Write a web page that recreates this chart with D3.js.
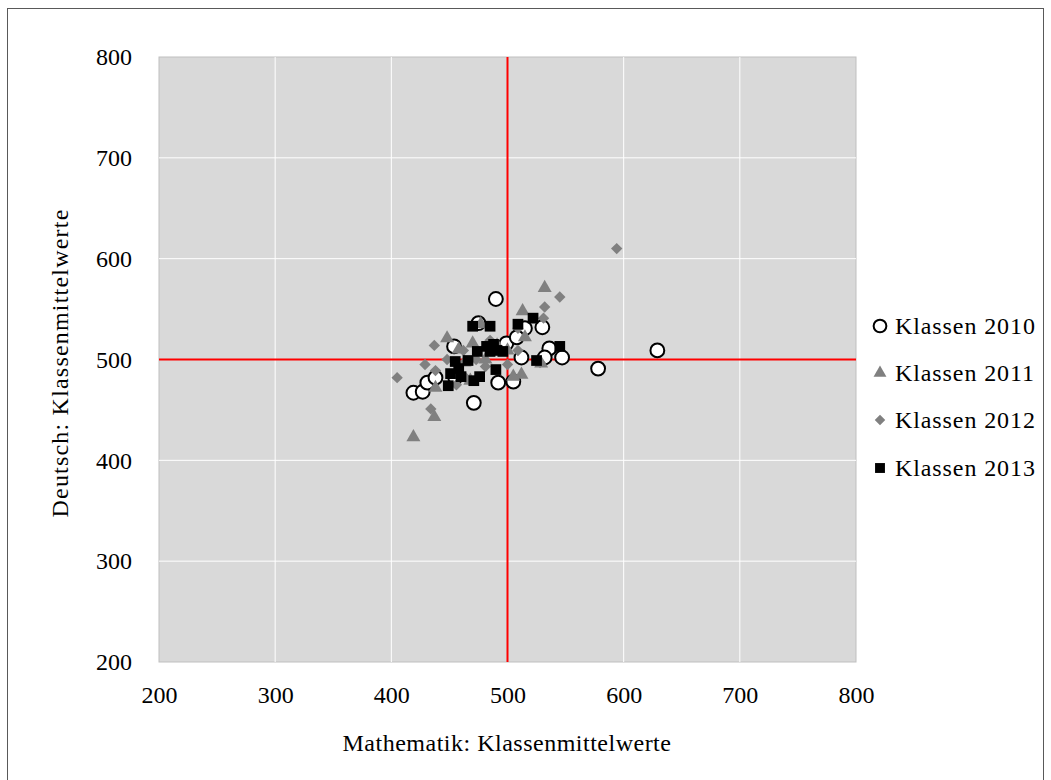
<!DOCTYPE html>
<html><head><meta charset="utf-8">
<script src="https://cdn.jsdelivr.net/npm/d3@7"></script>
<style>body{margin:0;background:#fff}svg text{font-family:"Liberation Serif","DejaVu Serif",serif;fill:#000}</style>
</head><body><svg id="c" width="1051" height="780"></svg>
<script>
const ticks = [200,300,400,500,600,700,800];
const seriesNames = ["Klassen 2010","Klassen 2011","Klassen 2012","Klassen 2013"];
const k2010 = [[490,560],[475,536],[454,513],[515,531],[530,532],[499,516],[508,522],[512,502],[536,511],[532,502],[547,502],[578,491],[629,509],[471,457],[492,477],[505,478],[419,467],[427,468],[431,477],[438,482],[455,482]];
const k2011 = [[532,571],[513,548],[448,521],[477,535],[470,516],[458,510],[515,522],[438,472],[437,443],[419,423],[512,485],[505,483],[481,500],[463,497],[468,479],[491,514],[529,496],[500,509]];
const k2012 = [[594,610],[545,562],[532,552],[531,541],[405,482],[437,514],[429,495],[438,489],[434,451],[509,509],[528,497],[481,493],[500,495],[448,500],[462,509],[473,500],[485,519],[509,531],[456,475],[464,482]];
const k2013 = [[470,533],[485,533],[509,535],[522,541],[545,513],[525,499],[455,498],[466,499],[474,508],[482,513],[488,515],[491,509],[496,508],[485,508],[458,491],[451,486],[449,474],[471,479],[476,483],[490,490],[460,483]];

const svg = d3.select("#c");
const L=159,R=856,T=57,B=662;
const x = d3.scaleLinear().domain([200,800]).range([L,R]);
const y = d3.scaleLinear().domain([200,800]).range([B,T]);

svg.append("rect").attr("x",7.5).attr("y",8.5).attr("width",1036).attr("height",790).attr("fill","none").attr("stroke","#595959").attr("stroke-width",1);
svg.append("rect").attr("x",L).attr("y",T).attr("width",R-L).attr("height",B-T).attr("fill","#d9d9d9").attr("stroke","#bfbfbf").attr("stroke-width",1);

const g = svg.append("g");
g.selectAll(".gx").data(ticks.slice(1,-1)).join("line").attr("x1",d=>x(d)).attr("x2",d=>x(d)).attr("y1",T).attr("y2",B).attr("stroke","#fff").attr("stroke-width",1);
g.selectAll(".gy").data(ticks.slice(1,-1)).join("line").attr("y1",d=>y(d)).attr("y2",d=>y(d)).attr("x1",L).attr("x2",R).attr("stroke","#fff").attr("stroke-width",1);

const xa = d3.axisBottom(x).tickValues(ticks).tickSize(0).tickPadding(24);
svg.append("g").attr("transform",`translate(0,${B})`).call(xa).call(s=>{s.select(".domain").remove();s.selectAll("text").attr("font-size",24).style("font-family","Liberation Serif");});
const ya = d3.axisLeft(y).tickValues(ticks).tickSize(0).tickPadding(27);
svg.append("g").attr("transform",`translate(${L},0)`).call(ya).call(s=>{s.select(".domain").remove();s.selectAll("text").attr("font-size",24).style("font-family","Liberation Serif");});

svg.append("line").attr("x1",x(500)).attr("x2",x(500)).attr("y1",T).attr("y2",B).attr("stroke","#ff0000").attr("stroke-width",2);
svg.append("line").attr("y1",y(500)).attr("y2",y(500)).attr("x1",L).attr("x2",R).attr("stroke","#ff0000").attr("stroke-width",2);

const sym = [
  {t:d3.symbolCircle,s:150,fill:"#fff",stroke:"#000",sw:2},
  {t:d3.symbolTriangle,s:85,fill:"#808080",stroke:"none",sw:0},
  {t:d3.symbolSquare,s:65,fill:"#808080",stroke:"none",sw:0,rot:45},
  {t:d3.symbolSquare,s:115,fill:"#000",stroke:"none",sw:0}
];
const data=[k2010,k2011,k2012,k2013];
data.forEach((arr,i)=>{
  const m=sym[i];
  svg.append("g").selectAll("path").data(arr).join("path")
    .attr("d",d3.symbol().type(m.t).size(m.s))
    .attr("transform",d=>`translate(${x(d[0])},${y(d[1])})`+(m.rot?` rotate(${m.rot})`:""))
    .attr("fill",m.fill).attr("stroke",m.stroke).attr("stroke-width",m.sw);
});

const ly=[326,373,420,468];
seriesNames.forEach((n,i)=>{
  const m=sym[i];
  const lg=svg.append("g").attr("transform",`translate(880,${ly[i]})`);
  lg.append("path").attr("d",d3.symbol().type(m.t).size(m.s*0.85)).attr("transform",m.rot?`rotate(${m.rot})`:"")
    .attr("fill",m.fill).attr("stroke",m.stroke).attr("stroke-width",m.sw);
  lg.append("text").attr("x",15).attr("y",8).attr("font-size",24).attr("letter-spacing",0.9).text(n);
});

svg.append("text").attr("x",507).attr("y",751).attr("text-anchor","middle").attr("font-size",24).attr("letter-spacing",0.5).text("Mathematik: Klassenmittelwerte");
svg.append("text").attr("transform","translate(68,363) rotate(-90)").attr("text-anchor","middle").attr("font-size",24).attr("letter-spacing",1.2).text("Deutsch: Klassenmittelwerte");
</script></body></html>
